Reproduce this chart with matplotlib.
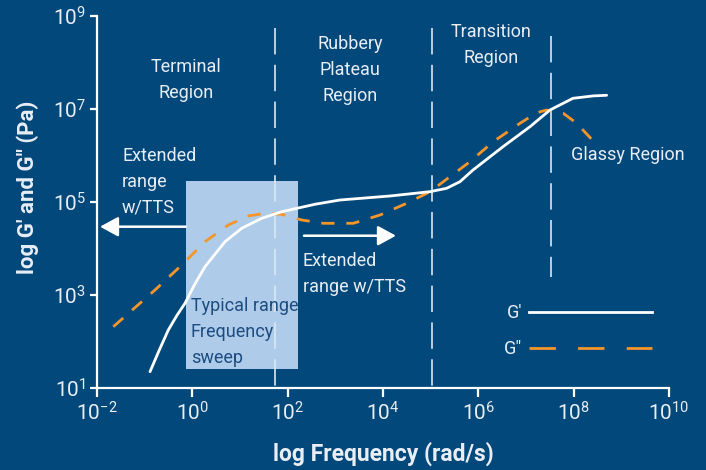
import numpy as np
import matplotlib
matplotlib.use("Agg")
import matplotlib.pyplot as plt
from matplotlib.lines import Line2D
from matplotlib.patches import Rectangle
from matplotlib.ticker import FixedLocator, FuncFormatter, NullLocator

# ---------------- data (log10 values) ----------------
gp_logf = [-0.888, -0.70, -0.504, -0.33, -0.154, 0.05, 0.266, 0.685, 1.035, 1.455,
           1.875, 2.573, 3.098, 4.146, 4.986, 5.336, 5.615, 5.888, 6.517, 7.083,
           7.503, 7.985, 8.413, 8.692]
gp_logG = [1.351, 1.80, 2.247, 2.55, 2.822, 3.23, 3.609, 4.146, 4.434, 4.649,
           4.791, 4.951, 5.043, 5.129, 5.222, 5.295, 5.437, 5.688, 6.189, 6.619,
           6.978, 7.230, 7.282, 7.295]

gpp_logf = [-1.658, -0.783, -0.223, 0.266, 0.754, 1.174, 1.524, 1.875, 2.294, 2.747,
            3.377, 3.937, 4.497, 4.986, 5.405, 5.825, 6.313, 6.874, 7.224, 7.434,
            7.782, 8.063, 8.378]
gpp_logG = [2.318, 3.108, 3.645, 4.146, 4.505, 4.699, 4.757, 4.735, 4.613, 4.542,
            4.542, 4.720, 4.972, 5.222, 5.544, 5.867, 6.297, 6.692, 6.920, 6.978,
            6.908, 6.692, 6.348]

x_ticks = [1e-2, 1e0, 1e2, 1e4, 1e6, 1e8, 1e10]
y_ticks = [1e1, 1e3, 1e5, 1e7, 1e9]
region_bounds_logf = [1.734, 5.021, 7.524]

# ---------------- style ----------------
BG = "#02487a"
FG = "#e9eef5"
ORANGE = "#f5952a"
BOX = "#aecbea"
BOXTXT = "#1d4d80"

plt.rcParams["font.family"] = ["Roboto", "DejaVu Sans"]
plt.rcParams["mathtext.fontset"] = "custom"
plt.rcParams["mathtext.rm"] = "Roboto:light"
plt.rcParams["mathtext.it"] = "Roboto:italic"
plt.rcParams["mathtext.bf"] = "Roboto:bold"
plt.rcParams["lines.scale_dashes"] = False

W, H = 706, 470
fig = plt.figure(figsize=(W / 100, H / 100), dpi=100, facecolor=BG)
x0, x1, ytop, ybot = 97, 669, 16, 388
ax = fig.add_axes([x0 / W, 1 - ybot / H, (x1 - x0) / W, (ybot - ytop) / H])
ax.set_facecolor(BG)
ax.set_xscale("log")
ax.set_yscale("log")
ax.set_xlim(1e-2, 1e10)
ax.set_ylim(1e1, 1e9)

for s in ["top", "right"]:
    ax.spines[s].set_visible(False)
for s in ["left", "bottom"]:
    ax.spines[s].set_color("white")
    ax.spines[s].set_linewidth(1.6)

def fmt(v, pos):
    e = int(round(np.log10(v)))
    return r"$\mathregular{10^{%d}}$" % e

ax.xaxis.set_major_locator(FixedLocator(x_ticks))
ax.yaxis.set_major_locator(FixedLocator(y_ticks))
ax.xaxis.set_minor_locator(NullLocator())
ax.yaxis.set_minor_locator(NullLocator())
ax.xaxis.set_major_formatter(FuncFormatter(fmt))
ax.yaxis.set_major_formatter(FuncFormatter(fmt))
ax.tick_params(axis="x", colors="white", labelcolor=FG, length=6.5, width=1.6,
               labelsize=15, pad=3)
ax.tick_params(axis="y", colors="white", labelcolor=FG, length=5, width=1.6,
               labelsize=15, pad=3)

ax.set_xlabel("log Frequency (rad/s)", color=FG, fontsize=16.5, fontweight="bold")
ax.set_ylabel("log G' and G'' (Pa)", color=FG, fontsize=16, fontweight="bold")
ax.xaxis.label.set_va("center")
ax.yaxis.label.set_va("center")
ax.xaxis.set_label_coords((383 - x0) / (x1 - x0), -(454 - ybot) / (ybot - ytop))
ax.yaxis.set_label_coords(-(97 - 28) / (x1 - x0), (ybot - 187) / (ybot - ytop))

# typical range box
ax.add_patch(Rectangle((10 ** -0.139, 10 ** 1.409), 10 ** 2.223 - 10 ** -0.139,
                       10 ** 5.458 - 10 ** 1.409, facecolor=BOX, edgecolor="none",
                       zorder=1))

# region boundary lines
vl_kw = dict(color="#dde6f0", lw=1.2, linestyle=(0, (19, 7.5)), zorder=2)
ax.plot([10 ** region_bounds_logf[0]] * 2, [10 ** 8.742, 1e1], **vl_kw)
ax.plot([10 ** region_bounds_logf[1]] * 2, [10 ** 8.742, 1e1], **vl_kw)
ax.plot([10 ** region_bounds_logf[2]] * 2, [10 ** 8.570, 10 ** 3.394], **vl_kw)

# curves
gp_f = 10 ** np.array(gp_logf)
gp_G = 10 ** np.array(gp_logG)
gpp_f = 10 ** np.array(gpp_logf)
gpp_G = 10 ** np.array(gpp_logG)
ax.plot(gpp_f, gpp_G, color=ORANGE, lw=2.0, linestyle=(0, (9.5, 8.5)), zorder=3,
        dash_capstyle="butt")
ax.plot(gp_f, gp_G, color="white", lw=2.0, zorder=4, solid_capstyle="round",
        solid_joinstyle="round")

# arrows
arr = dict(arrowstyle="-|>,head_length=0.55,head_width=0.3", color="white", lw=1.8,
           shrinkA=0, shrinkB=0, mutation_scale=20)
ax.annotate("", xy=(10 ** -1.937, 10 ** 4.469), xytext=(10 ** -0.139, 10 ** 4.469),
            arrowprops=arr, zorder=5)
ax.annotate("", xy=(10 ** 4.272, 10 ** 4.275), xytext=(10 ** 2.342, 10 ** 4.275),
            arrowprops=arr, zorder=5)

# texts
def ftext(px, py, s, **kw):
    fig.text(px / W, 1 - py / H, s, **kw)

tk = dict(color=FG, fontsize=13, fontweight="normal", linespacing=1.55)
ftext(186, 80, "Terminal\nRegion", ha="center", va="center", **tk)
ftext(350, 70, "Rubbery\nPlateau\nRegion", ha="center", va="center", **tk)
ftext(491, 45, "Transition\nRegion", ha="center", va="center", **tk)
ftext(628, 155, "Glassy Region", ha="center", va="center", **tk)
ftext(122, 182, "Extended\nrange\nw/TTS", ha="left", va="center", **tk)
ftext(303, 274, "Extended\nrange w/TTS", ha="left", va="center", **tk)
ftext(191, 332, "Typical range\nFrequency\nsweep", ha="left", va="center",
      color=BOXTXT, fontsize=13, fontweight="normal", linespacing=1.55)

# legend
h1 = Line2D([], [], color="white", lw=2.0)
h2 = Line2D([], [], color=ORANGE, lw=2.0, linestyle=(0, (19, 16)))
leg = ax.legend([h1, h2], ["G\u2032", "G\u2033"], loc="upper left",
                bbox_to_anchor=((504 - x0) / (x1 - x0), (ybot - 304) / (ybot - ytop)),
                frameon=False, markerfirst=False, handlelength=6.8,
                handletextpad=0.4, labelspacing=1.0, fontsize=13,
                borderpad=0, borderaxespad=0)
for t in leg.get_texts():
    t.set_color(FG)

fig.savefig("out.png", dpi=100, facecolor=BG)
